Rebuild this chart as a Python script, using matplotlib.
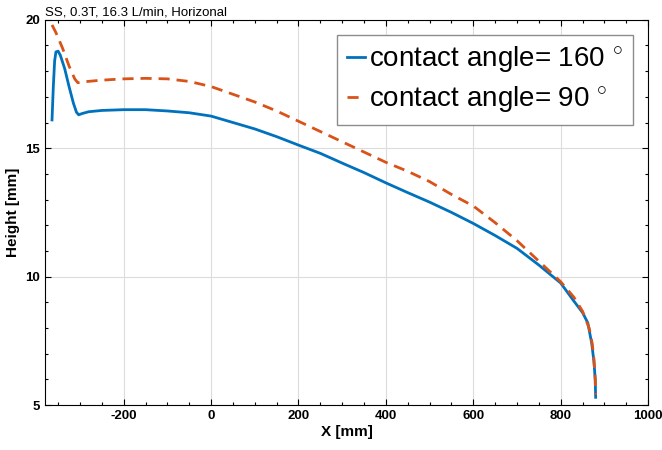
import matplotlib.pyplot as plt
from matplotlib.ticker import MultipleLocator

plt.rcParams["font.family"] = ["Liberation Sans", "DejaVu Sans"]
plt.rcParams["mathtext.fontset"] = "custom"
plt.rcParams["mathtext.rm"] = "Liberation Sans"
plt.rcParams["axes.unicode_minus"] = False

# contact angle 160 deg (blue)
x_160 = [-364, -361, -358, -355, -350, -345, -335, -325, -315, -308, -303, -295,
         -280, -250, -200, -150, -100, -50, 0, 50, 100, 150, 200, 250, 300, 350,
         400, 450, 500, 550, 600, 650, 700, 750, 800, 830, 850, 862, 871, 876,
         879, 880]
h_160 = [16.1, 17.4, 18.4, 18.75, 18.78, 18.62, 18.1, 17.4, 16.75, 16.4, 16.3,
         16.35, 16.42, 16.47, 16.5, 16.5, 16.45, 16.38, 16.25, 16.0, 15.75, 15.45,
         15.12, 14.8, 14.42, 14.05, 13.65, 13.27, 12.9, 12.5, 12.07, 11.6, 11.1,
         10.45, 9.75, 9.05, 8.6, 8.2, 7.4, 6.7, 6.0, 5.3]

# contact angle 90 deg (orange)
x_90 = [-364, -355, -340, -325, -312, -305, -295, -250, -200, -150, -100, -50, 0,
        50, 100, 150, 200, 250, 300, 350, 400, 450, 500, 550, 600, 650, 700, 750,
        800, 830, 850, 865, 872, 876, 879, 880]
h_90 = [19.8, 19.5, 18.9, 18.2, 17.7, 17.55, 17.58, 17.65, 17.7, 17.72, 17.7,
        17.6, 17.4, 17.1, 16.8, 16.45, 16.05, 15.65, 15.25, 14.85, 14.45, 14.1,
        13.7, 13.2, 12.75, 12.1, 11.4, 10.6, 9.8, 9.2, 8.65, 8.0, 7.4, 6.8, 6.0, 5.4]

BLUE = "#0072BD"
ORANGE = "#D95319"

fig = plt.figure(figsize=(6.62, 4.5), dpi=100)
ax = fig.add_axes([0.068, 0.1, 0.911, 0.856])

ax.plot(x_160, h_160, color=BLUE, linewidth=2, label="contact angle= 160 $^{\\circ}$")
ax.plot(x_90, h_90, color=ORANGE, linewidth=2, linestyle=(0, (4, 2.5)),
        label="contact angle= 90 $^{\\circ}$")

ax.set_xlim(-380, 1000)
ax.set_ylim(5, 20)
ax.set_xticks([-200, 0, 200, 400, 600, 800, 1000])
ax.set_yticks([5, 10, 15, 20])
ax.xaxis.set_minor_locator(MultipleLocator(50))
ax.yaxis.set_minor_locator(MultipleLocator(1))
ax.tick_params(which="both", direction="in", top=True, right=True, width=0.8)
ax.tick_params(which="major", length=4, labelsize=9.5)
ax.tick_params(which="minor", length=2.5)
for lbl in ax.get_xticklabels() + ax.get_yticklabels():
    lbl.set_fontweight("bold")
ax.grid(True, which="major", color="#dcdcdc", linewidth=0.8)
ax.set_axisbelow(True)
for s in ax.spines.values():
    s.set_linewidth(0.8)

ax.set_xlabel("X [mm]", fontsize=11, fontweight="bold", labelpad=2)
ax.set_ylabel("Height [mm]", fontsize=11, fontweight="bold", labelpad=4)
ax.set_title("SS, 0.3T, 16.3 L/min, Horizonal", loc="left", fontsize=9.5, pad=3)

leg = ax.legend(loc="upper right", fontsize=20, handlelength=0.65,
                handletextpad=0.15, labelspacing=0.35, borderpad=0.35,
                borderaxespad=0.55, fancybox=False, framealpha=1,
                edgecolor="#8c8c8c")
leg.get_frame().set_linewidth(1.0)

fig.savefig("out.png", dpi=100)
